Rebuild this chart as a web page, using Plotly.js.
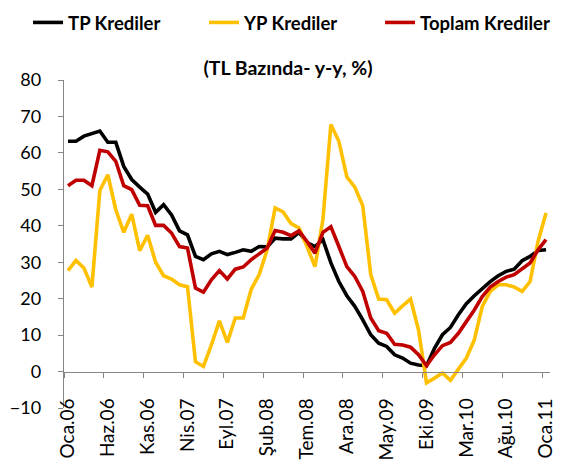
<!DOCTYPE html>
<html>
<head>
<meta charset="utf-8">
<script src="https://cdn.plot.ly/plotly-3.0.1.min.js"></script>
<style>html,body{margin:0;padding:0;background:#fff;}#chart{width:568px;height:466px;}</style>
</head>
<body>
<div id="chart"></div>
<script>
// Monthly categories, Oca.06 .. Oca.11
const months = [
  "Oca.06","Şub.06","Mar.06","Nis.06","May.06","Haz.06","Tem.06","Ağu.06","Eyl.06","Eki.06","Kas.06","Ara.06",
  "Oca.07","Şub.07","Mar.07","Nis.07","May.07","Haz.07","Tem.07","Ağu.07","Eyl.07","Eki.07","Kas.07","Ara.07",
  "Oca.08","Şub.08","Mar.08","Nis.08","May.08","Haz.08","Tem.08","Ağu.08","Eyl.08","Eki.08","Kas.08","Ara.08",
  "Oca.09","Şub.09","Mar.09","Nis.09","May.09","Haz.09","Tem.09","Ağu.09","Eyl.09","Eki.09","Kas.09","Ara.09",
  "Oca.10","Şub.10","Mar.10","Nis.10","May.10","Haz.10","Tem.10","Ağu.10","Eyl.10","Eki.10","Kas.10","Ara.10",
  "Oca.11"
];

const tpKrediler = [
  63.2, 63.2, 64.6, 65.2, 66.0, 62.9, 62.9, 56.3, 52.7, 50.6, 48.7, 43.7,
  45.8, 43.0, 38.6, 37.5, 31.6, 30.7, 32.3, 33.0, 32.1, 32.7, 33.4, 33.0,
  34.3, 34.2, 36.6, 36.4, 36.4, 38.2, 35.4, 34.3, 36.2, 29.8, 24.7, 20.8,
  17.9, 14.2, 10.1, 7.8, 6.9, 4.6, 3.7, 2.3, 1.8, 1.6, 6.4, 10.1,
  12.1, 15.6, 18.6, 20.8, 22.9, 24.7, 26.3, 27.5, 28.1, 30.4, 31.6, 33.2,
  33.4
];

const ypKrediler = [
  27.7, 30.5, 28.4, 23.2, 49.7, 54.0, 44.4, 38.2, 43.2, 33.2, 37.4, 30.0,
  26.3, 25.4, 23.8, 23.3, 2.7, 1.4, 7.3, 13.9, 8.0, 14.7, 14.7, 22.6,
  26.6, 33.4, 44.9, 43.8, 40.6, 39.4, 34.3, 28.8, 41.7, 67.8, 63.2, 53.4,
  50.6, 45.5, 26.6, 19.9, 19.7, 16.0, 18.0, 19.9, 11.4, -3.1, -1.8, -0.4,
  -2.4, 0.5, 3.7, 8.7, 17.9, 22.0, 23.8, 23.8, 23.2, 22.0, 24.7, 35.7,
  43.5
];

const toplamKrediler = [
  51.0, 52.5, 52.5, 51.0, 60.7, 60.3, 57.7, 51.0, 49.9, 45.6, 45.5, 40.1,
  40.1, 38.0, 34.3, 33.9, 22.9, 21.8, 25.2, 27.7, 25.4, 28.1, 28.7, 30.7,
  32.3, 33.9, 38.7, 38.2, 37.3, 38.6, 35.7, 32.5, 38.2, 39.7, 34.3, 28.8,
  26.1, 22.0, 14.7, 11.2, 10.5, 7.5, 7.3, 6.7, 4.6, 1.6, 4.6, 7.1,
  8.0, 10.5, 13.7, 16.9, 20.6, 23.2, 24.7, 25.9, 26.6, 28.1, 29.8, 33.4,
  36.2
];

const seriesNames = ["TP Krediler", "YP Krediler", "Toplam Krediler"];
const titleText = "(TL Bazında- y-y, %)";

const FONT = "Lato, 'Noto Sans', 'DejaVu Sans', sans-serif";

function line(name, y, color) {
  return {
    type: "scatter", mode: "lines", name: name,
    x: months, y: y,
    line: {color: color, width: 3.6},
    hoverinfo: "skip"
  };
}

const data = [
  line(seriesNames[0], tpKrediler, "#000000"),
  line(seriesNames[1], ypKrediler, "#FFC000"),
  line(seriesNames[2], toplamKrediler, "#C00000")
];

const layout = {
  width: 568, height: 466,
  margin: {l: 64, r: 18, t: 80, b: 58, autoexpand: false},
  paper_bgcolor: "#ffffff", plot_bgcolor: "#ffffff",
  font: {family: FONT, color: "#000000", size: 15},
  showlegend: true,
  legend: {
    orientation: "h", x: -0.074, y: 1.232, xref: "paper", yref: "paper",
    xanchor: "left", yanchor: "top",
    font: {family: FONT, size: 18.5, color: "#000000", weight: "bold"},
    entrywidth: 131, entrywidthmode: "pixels",
    bgcolor: "rgba(0,0,0,0)"
  },
  title: {
    text: "<b>" + titleText + "</b>",
    x: 288/568, xref: "container", xanchor: "center",
    y: 1 - 68/466, yref: "container", yanchor: "middle",
    font: {family: FONT, size: 19.5, color: "#000000"}
  },
  xaxis: {
    type: "category", categoryorder: "array", categoryarray: months,
    range: [-0.5, 60.5],
    tickmode: "linear", tick0: 0, dtick: 5,
    tickson: "boundaries",
    ticks: "outside", ticklen: 5, tickwidth: 1, tickcolor: "#868686",
    showline: true, linecolor: "#868686", linewidth: 1.2,
    showgrid: false, zeroline: false,
    anchor: "free", position: 10/90,
    tickangle: -90, ticklabelstandoff: 18,
    tickfont: {family: FONT, size: 19, color: "#000000"}
  },
  yaxis: {
    range: [-10, 80], tickmode: "linear", tick0: 0, dtick: 10,
    ticks: "outside", ticklen: 5, tickwidth: 1, tickcolor: "#868686",
    showline: true, linecolor: "#868686", linewidth: 1.2,
    showgrid: false, zeroline: false,
    ticklabelstandoff: 13,
    tickfont: {family: FONT, size: 18, color: "#000000"}
  }
};

Plotly.newPlot("chart", data, layout, {staticPlot: true, displayModeBar: false});
</script>
</body>
</html>
